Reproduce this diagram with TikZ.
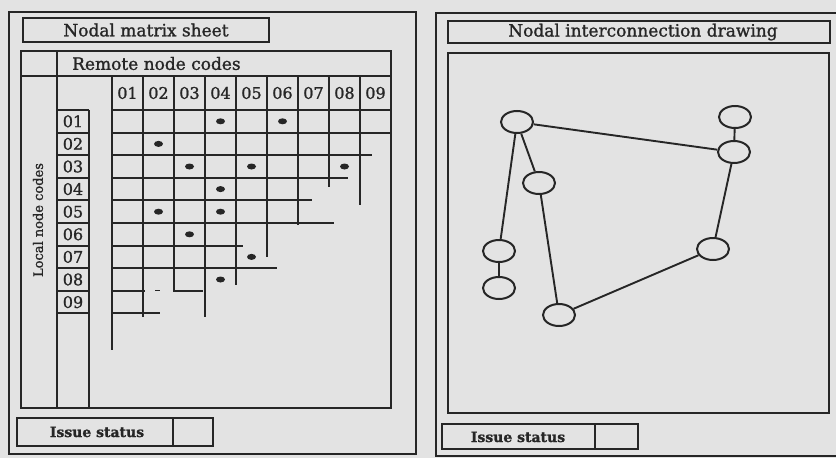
\documentclass[tikz,border=0pt]{standalone}
\usepackage{fontspec}
\setmainfont[FakeBold=1.2]{DejaVu Serif}
\usetikzlibrary{shapes.geometric}
\definecolor{ink}{HTML}{262626}
\definecolor{paper}{HTML}{E3E3E3}
\tikzset{
  frame/.style={draw=ink, line width=2.3pt},
  gridline/.style={draw=ink, line width=2.1pt},
  dotmark/.style={ellipse, fill=ink, minimum width=9pt, minimum height=6pt, inner sep=0pt},
  vert/.style={ellipse, draw=ink, line width=2pt, minimum width=32pt, minimum height=22pt, inner sep=0pt},
  link/.style={draw=ink, line width=1.9pt},
  bigtext/.style={font=\fontsize{17}{20}\selectfont, text=ink, inner sep=0pt},
  numtext/.style={font=\fontsize{16}{19}\selectfont, text=ink, inner sep=0pt},
  smalltext/.style={font=\fontsize{13}{15}\selectfont, text=ink, inner sep=0pt},
  issuetext/.style={font=\bfseries\fontsize{14}{16}\selectfont, text=ink, inner sep=0pt}
}
\begin{document}
\begin{tikzpicture}[x=1pt,y=-1pt]
\useasboundingbox (0,0) rectangle (836,458);
\fill[paper] (0,0) rectangle (836,458);

% ---------------- left sheet ----------------
\draw[frame] (9,12) rectangle (416,454);
\draw[frame] (23,18) rectangle (269,42);
\node[bigtext] (ltitle) at (146,30) {Nodal matrix sheet};

% matrix panel
\draw[frame] (21,51) rectangle (391,408);
\draw[frame] (21,76) -- (391,76);
\draw[frame] (57,51) -- (57,408);
\node[bigtext, anchor=west] (remote) at (72,63.5) {Remote node codes};
\node[smalltext, rotate=90] (local) at (38,220) {Local node codes};

% row label column
\draw[gridline] (89,110) -- (89,408);
\foreach \k in {0,...,9} \draw[gridline] (57,{110+22.6*\k}) -- (89,{110+22.6*\k});
\foreach \r in {1,...,9} \node[numtext] (row\r) at (73,{110+22.6*(\r-0.5)}) {0\r};

% column headers
\foreach \j in {1,...,9} \node[numtext] (col\j) at ({112+31*(\j-0.5)},93) {0\j};

% grid verticals
\foreach \j/\yb in {0/350,1/317,2/292,3/317,4/285,5/257,6/225,7/187,8/205}
  \draw[gridline] ({112+31*\j},76) -- ({112+31*\j},\yb);
% grid horizontals
\foreach \k/\xe in {0/391,1/391,2/372,3/348,4/312,5/334,6/243,7/277,9/160}
  \draw[gridline] (112,{110+22.6*\k}) -- (\xe,{110+22.6*\k});
\draw[gridline] (112,290.8) -- (145,290.8);
\draw[gridline] (173,290.8) -- (203,290.8);
\draw[draw=ink, line width=1.2pt] (155,290.8) -- (160,290.8);

% dots
\foreach \r/\c [count=\n] in {1/4,1/6,2/2,3/3,3/5,3/8,4/4,5/2,5/4,6/3,7/5,8/4}
  \node[dotmark] (dot\n) at ({112+31*(\c-0.5)},{110+22.6*(\r-0.5)}) {};

% issue status
\draw[frame] (17,418) rectangle (213,446);
\draw[frame] (173,418) -- (173,446);
\node[issuetext] (lissue) at (97,432) {Issue status};

% ---------------- right sheet ----------------
\draw[frame] (436,13) rectangle (845,456);
\draw[frame] (448,21) rectangle (830,43);
\node[bigtext] (rtitle) at (643,32) {Nodal interconnection drawing};
\draw[frame] (448,53) rectangle (829,413);

\node[vert] (A) at (517,122) {};
\node[vert] (B) at (735,117) {};
\node[vert] (C) at (734,152) {};
\node[vert] (D) at (539,183) {};
\node[vert] (E) at (499,251) {};
\node[vert] (F) at (499,288) {};
\node[vert] (G) at (559,315) {};
\node[vert] (H) at (713,249) {};
\draw[link] (A) -- (C);
\draw[link] (B) -- (C);
\draw[link] (A) -- (E);
\draw[link] (E) -- (F);
\draw[link] (A) -- (D);
\draw[link] (D) -- (G);
\draw[link] (G) -- (H);
\draw[link] (H) -- (C);

\draw[frame] (442,424) rectangle (638,449);
\draw[frame] (595,424) -- (595,449);
\node[issuetext] (rissue) at (518,437) {Issue status};
\end{tikzpicture}
\end{document}
